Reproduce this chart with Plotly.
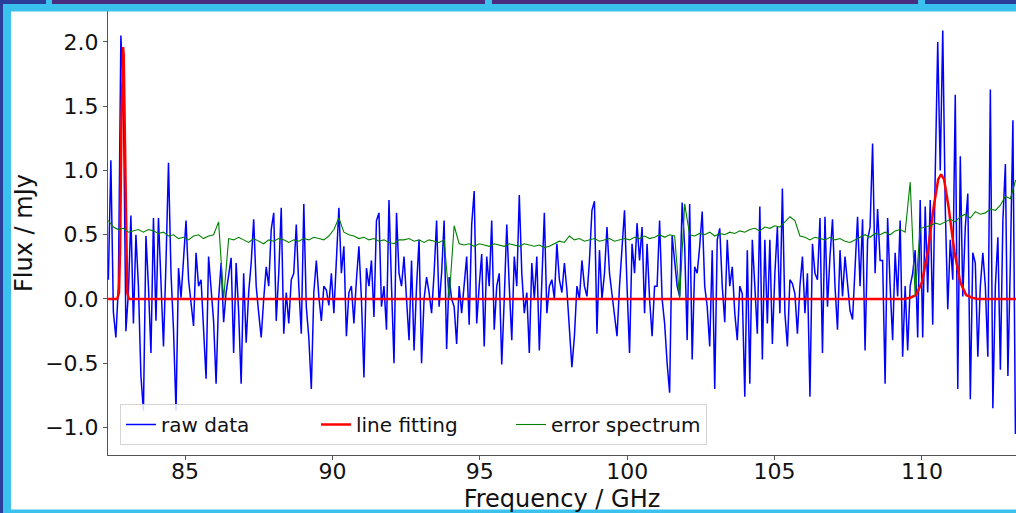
import plotly.graph_objects as go

# ---------------- data ----------------
raw_start = 82.40      # GHz, first channel
raw_step = 0.085       # GHz, channel width
raw_flux = [
    0.15, 1.08, -0.10, -0.30, 0.10, 2.05, 1.56, -0.25, 0.05, 0.65,
    -0.19, 0.50, 0.10, -0.60, -0.87, 0.49, 0.10, -0.42, 0.63, -0.17,
    0.63, 0.10, -0.37, 0.28, 1.06, 0.20, -0.24, -0.87, 0.24, 0.01,
    0.30, 0.61, 0.15, -0.05, -0.21, 0.36, 0.10, 0.15, -0.20, -0.62,
    0.33, 0.10, -0.17, -0.66, 0.00, 0.28, -0.18, 0.05, 0.20, 0.32,
    -0.42, 0.28, -0.10, -0.66, 0.20, -0.34, 0.05, 0.28, 0.62, 0.10,
    -0.11, -0.30, 0.00, 0.25, 0.10, 0.54, 0.67, -0.17, 0.20, 0.71,
    -0.27, 0.05, -0.19, 0.15, 0.20, 0.58, 0.10, -0.27, 0.74, -0.06,
    -0.30, -0.70, 0.05, 0.30, 0.02, -0.17, 0.10, 0.07, -0.05, 0.20,
    -0.11, 0.30, 0.71, 0.20, 0.41, -0.29, 0.05, 0.10, -0.19, 0.15,
    0.41, 0.00, -0.61, 0.24, 0.10, 0.30, -0.14, 0.61, 0.67, -0.06,
    0.10, -0.24, 0.77, 0.10, -0.50, 0.67, 0.20, 0.10, 0.33, 0.00,
    -0.32, 0.30, -0.40, 0.10, 0.46, -0.50, 0.00, 0.17, 0.05, -0.11,
    0.20, 0.61, -0.06, 0.20, 0.61, -0.39, 0.17, 0.00, -0.06, -0.35,
    0.10, -0.11, 0.10, 0.33, -0.20, 0.58, 0.84, -0.19, 0.10, 0.35,
    -0.37, 0.33, 0.10, 0.61, -0.24, 0.10, 0.20, -0.51, 0.00, 0.58,
    0.10, -0.32, 0.33, 0.10, 0.81, 0.20, -0.11, 0.05, -0.42, 0.28,
    0.00, 0.33, -0.40, 0.20, 0.67, -0.11, 0.10, 0.15, 0.00, 0.43,
    0.15, 0.05, 0.28, 0.07, -0.20, -0.53, -0.29, 0.10, 0.00, 0.30,
    0.10, 0.02, 0.30, 0.69, 0.76, -0.27, 0.38, 0.00, 0.20, 0.56,
    0.20, 0.05, -0.10, -0.29, 0.10, 0.41, 0.69, 0.10, -0.42, 0.43,
    0.20, 0.59, 0.30, 0.56, -0.11, 0.43, 0.00, -0.29, 0.10, 0.10,
    0.61, 0.00, -0.19, -0.50, -0.73, 0.49, 0.30, 0.10, 0.02, 0.75,
    0.41, -0.32, 0.74, -0.47, 0.25, 0.20, 0.41, 0.68, 0.10, -0.06,
    -0.37, 0.38, -0.70, 0.46, 0.55, 0.10, -0.18, 0.46, 0.10, 0.25,
    -0.11, -0.32, 0.10, 0.04, -0.76, 0.38, -0.66, 0.46, 0.10, -0.27,
    0.72, -0.47, 0.46, -0.19, 0.46, -0.35, 0.20, 0.56, -0.11, 0.86,
    -0.11, -0.37, 0.15, 0.12, 0.04, -0.27, 0.10, 0.33, -0.11, 0.20,
    -0.76, 0.43, 0.20, 0.15, 0.63, -0.42, 0.64, -0.06, 0.33, 0.62,
    0.10, -0.24, 0.38, 0.02, 0.33, 0.10, -0.09, -0.16, 0.20, 0.64,
    0.10, 0.62, -0.40, 0.46, 0.56, 1.21, 0.20, 0.70, 0.30, 0.30,
    -0.66, 0.63, 0.10, -0.32, 0.36, 0.02, 0.61, -0.45, 0.10, -0.40,
    0.10, 0.20, 0.38, -0.30, 0.77, -0.30, 0.72, 0.05, 0.77, -0.20,
    0.97, 2.00, 1.00, 2.09, 0.72, -0.08, 0.46, 0.15, 1.59, -0.70,
    1.11, 0.02, 0.56, 0.82, -0.78, 0.36, 0.28, -0.45, 0.10, 0.36,
    0.10, -0.45, 1.63, -0.85, 0.10, 0.48, -0.55, 0.61, 1.05, -0.60,
    0.30, 1.39, -1.05,
]
raw_freq = [round(raw_start + raw_step * k, 4) for k in range(len(raw_flux))]

fit_freq = [82.39, 82.70, 82.76, 82.80, 82.84, 82.88, 82.90, 82.92, 82.96, 83.00,
            83.04, 83.10, 109.40, 109.60, 109.80, 110.00, 110.20, 110.40, 110.55,
            110.65, 110.75, 110.90, 111.10, 111.30, 111.50, 111.70, 111.90, 113.20]
fit_flux = [0.0, 0.0, 0.05, 0.40, 1.30, 1.90, 1.96, 1.90, 1.30, 0.40,
            0.05, 0.0, 0.0, 0.01, 0.03, 0.13, 0.37, 0.72, 0.93,
            0.97, 0.93, 0.72, 0.37, 0.13, 0.03, 0.01, 0.0, 0.0]

err_start = 82.40
err_step = 0.17
err_flux = [
    0.61, 0.56, 0.54, 0.55, 0.52, 0.53, 0.54, 0.52, 0.54, 0.53,
    0.51, 0.52, 0.49, 0.50, 0.47, 0.48, 0.46, 0.49, 0.50, 0.47,
    0.49, 0.50, 0.60, 0.00, 0.47, 0.46, 0.48, 0.46, 0.44, 0.47,
    0.45, 0.43, 0.46, 0.45, 0.47, 0.46, 0.44, 0.46, 0.45, 0.47,
    0.46, 0.48, 0.47, 0.46, 0.49, 0.54, 0.63, 0.52, 0.50, 0.49,
    0.47, 0.48, 0.46, 0.47, 0.45, 0.46, 0.44, 0.43, 0.46, 0.46,
    0.47, 0.45, 0.46, 0.44, 0.46, 0.45, 0.44, 0.46, 0.00, 0.57,
    0.43, 0.42, 0.43, 0.41, 0.43, 0.42, 0.41, 0.43, 0.42, 0.41,
    0.43, 0.42, 0.41, 0.43, 0.42, 0.41, 0.42, 0.40, 0.41, 0.43,
    0.45, 0.44, 0.49, 0.46, 0.47, 0.45, 0.46, 0.47, 0.45, 0.46,
    0.47, 0.45, 0.46, 0.47, 0.46, 0.48, 0.47, 0.49, 0.47, 0.48,
    0.50, 0.48, 0.50, 0.49, 0.00, 0.74, 0.50, 0.49, 0.51, 0.50,
    0.52, 0.49, 0.51, 0.50, 0.52, 0.51, 0.53, 0.52, 0.54, 0.55,
    0.53, 0.56, 0.55, 0.57, 0.56, 0.60, 0.64, 0.61, 0.49, 0.48,
    0.46, 0.48, 0.47, 0.46, 0.48, 0.46, 0.47, 0.45, 0.44, 0.46,
    0.48, 0.50, 0.48, 0.51, 0.50, 0.52, 0.50, 0.53, 0.54, 0.52,
    0.91, 0.02, 0.55, 0.56, 0.57, 0.59, 0.58, 0.60, 0.62, 0.60,
    0.64, 0.66, 0.63, 0.68, 0.66, 0.67, 0.70, 0.69, 0.73, 0.80,
    0.78, 0.92, 0.95,
]
err_freq = [round(err_start + err_step * k, 4) for k in range(len(err_flux))]

x_ticks = [85, 90, 95, 100, 105, 110]
x_tick_labels = ["85", "90", "95", "100", "105", "110"]
y_ticks = [-1.0, -0.5, 0.0, 0.5, 1.0, 1.5, 2.0]
y_tick_labels = ["\u22121.0", "\u22120.5", "0.0", "0.5", "1.0", "1.5", "2.0"]

# ---------------- figure ----------------
W, H = 1016, 513
L, R, T, B = 108, 0, 11, 58
PW, PH = W - L - R, H - T - B

fig = go.Figure()
fig.add_trace(go.Scatter(x=raw_freq, y=raw_flux, mode="lines", name="raw data",
                         line=dict(color="#0000ff", width=1.5)))
fig.add_trace(go.Scatter(x=fit_freq, y=fit_flux, mode="lines", name="line fitting",
                         line=dict(color="#ff0000", width=2.5)))
fig.add_trace(go.Scatter(x=err_freq, y=err_flux, mode="lines", name="error spectrum",
                         line=dict(color="#008000", width=1.1)))


def px_rect(x0, x1, y0, y1, color):
    return dict(type="rect", xref="paper", yref="paper",
                x0=(x0 - L) / PW, x1=(x1 - L) / PW,
                y0=(H - B - y1) / PH, y1=(H - B - y0) / PH,
                fillcolor=color, line=dict(width=0), layer="above")


cyan = "#3bc1ee"
dark = "#2a3e99"
purple = "#4a2d7f"
shapes = [
    px_rect(0, 3, 0, 513, dark),
    px_rect(3, 11, 0, 513, cyan),
    px_rect(3, 1016, 4, 11.5, cyan),
    px_rect(0, 46, 0, 4, dark),
    px_rect(46, 52, 0, 4, cyan),
    px_rect(52, 485, 0, 4, purple),
    px_rect(485, 492, 0, 4, cyan),
    px_rect(492, 918, 0, 4, purple),
    px_rect(918, 925, 0, 4, cyan),
    px_rect(925, 1016, 0, 4, dark),
    px_rect(3, 1016, 509.5, 513, cyan),
]

axis_common = dict(showgrid=False, zeroline=False, showline=True, linecolor="#555555",
                   linewidth=1, ticks="outside", ticklen=4, tickwidth=1, tickcolor="#555555",
                   tickfont=dict(family="DejaVu Sans", size=22, color="#111111"))

fig.update_layout(
    width=W, height=H,
    margin=dict(l=L, r=R, t=T, b=B, pad=0),
    paper_bgcolor="white", plot_bgcolor="white",
    font=dict(family="DejaVu Sans", color="#111111"),
    xaxis=dict(range=[82.388, 113.19], tickvals=x_ticks, ticktext=x_tick_labels,
               ticklabelstandoff=-7,
               title=dict(text="Frequency / GHz", font=dict(size=24), standoff=6),
               automargin=False, **axis_common),
    yaxis=dict(range=[-1.214, 2.241], tickvals=y_ticks, ticktext=y_tick_labels,
               title=dict(text="Flux / mJy", font=dict(size=24), standoff=5),
               automargin=False, **axis_common),
    legend=dict(orientation="h", x=(120 - L) / PW, y=(H - B - 445) / PH,
                xanchor="left", yanchor="bottom",
                bgcolor="rgba(255,255,255,0.85)", bordercolor="#d4d4d4", borderwidth=1,
                font=dict(family="DejaVu Sans", size=20, color="#111111"),
                entrywidth=150, entrywidthmode="pixels"),
    shapes=shapes,
    showlegend=True,
)

fig.write_html("out.html")
